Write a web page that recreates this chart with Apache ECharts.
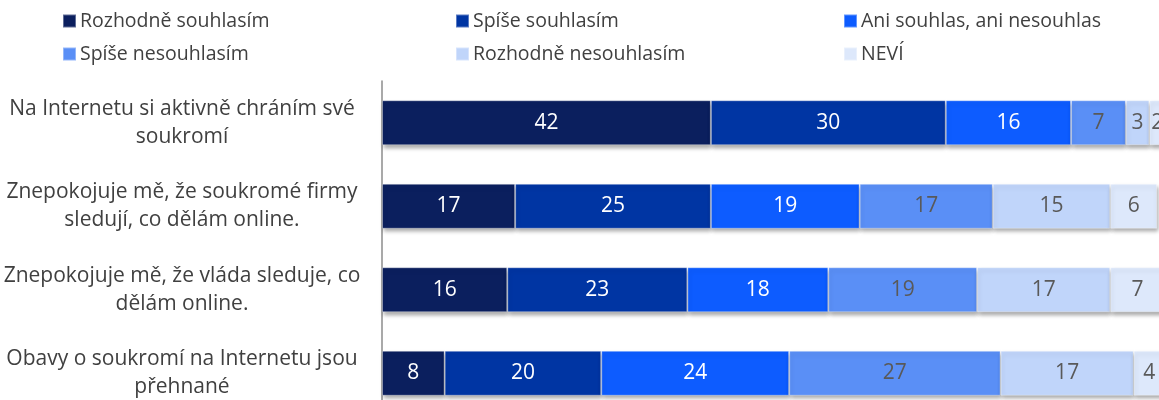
<!DOCTYPE html>
<html>
<head>
<meta charset="utf-8">
<script src="https://cdn.jsdelivr.net/npm/echarts@6/dist/echarts.min.js"></script>
<style>
  html, body { margin: 0; padding: 0; background: #fff; }
  #chart { width: 1159px; height: 400px; }
</style>
</head>
<body>
<div id="chart"></div>
<script>
// otázky (shora dolů)
var categories = [
  "Na Internetu si aktivně chráním své\nsoukromí",
  "Znepokojuje mě, že soukromé firmy\nsledují, co dělám online.",
  "Znepokojuje mě, že vláda sleduje, co\ndělám online.",
  "Obavy o soukromí na Internetu jsou\npřehnané"
];
var seriesNames = [
  "Rozhodně souhlasím",
  "Spíše souhlasím",
  "Ani souhlas, ani nesouhlas",
  "Spíše nesouhlasím",
  "Rozhodně nesouhlasím",
  "NEVÍ"
];
var rozhodneSouhlasim = [42, 17, 16, 8];
var spiseSouhlasim = [30, 25, 23, 20];
var aniAni = [16, 19, 18, 24];
var spiseNesouhlasim = [7, 17, 19, 27];
var rozhodneNesouhlasim = [3, 15, 17, 17];
var nevi = [2, 6, 7, 4];

var values = [rozhodneSouhlasim, spiseSouhlasim, aniAni, spiseNesouhlasim, rozhodneNesouhlasim, nevi];
var colors = ["#0b1f5e", "#0035a3", "#0d5cff", "#5a8ff6", "#c0d5fa", "#dde8fb"];
var labelColors = ["#fff", "#fff", "#fff", "#595959", "#595959", "#595959"];

var chart = echarts.init(document.getElementById("chart"));

var legendBase = {
  orient: "vertical",
  top: 11,
  icon: "rect",
  itemWidth: 13,
  itemHeight: 13,
  itemGap: 13,
  padding: 0,
  textStyle: { color: "#404040", fontSize: 19.5, fontFamily: "Open Sans", padding: [0, 0, 0, -1] }
};

chart.setOption({
  color: colors,
  animation: false,
  legend: [
    Object.assign({}, legendBase, { left: 62, data: [seriesNames[0], seriesNames[3]] }),
    Object.assign({}, legendBase, { left: 455, data: [seriesNames[1], seriesNames[4]] }),
    Object.assign({}, legendBase, { left: 843, data: [seriesNames[2], seriesNames[5]] })
  ],
  grid: {
    left: 382,
    top: 81,
    width: 783,
    height: 334,
    outerBoundsMode: "none"
  },
  xAxis: {
    type: "value",
    min: 0,
    max: 100,
    show: false
  },
  yAxis: {
    type: "category",
    inverse: true,
    data: categories,
    axisTick: { show: false },
    axisLine: { lineStyle: { color: "#8c8c8c", width: 1.5 } },
    axisLabel: {
      color: "#404040",
      fontSize: 21,
      fontFamily: "Open Sans",
      lineHeight: 28,
      align: "center",
      margin: 200
    }
  },
  series: values.map(function (data, i) {
    return {
      name: seriesNames[i],
      type: "bar",
      stack: "total",
      barWidth: 45,
      data: data,
      itemStyle: {
        color: colors[i],
        borderColor: "rgba(255,255,255,0.35)",
        borderWidth: 1,
        shadowColor: "rgba(0,0,0,0.35)",
        shadowBlur: 4,
        shadowOffsetY: 3,
        shadowOffsetX: 1
      },
      label: {
        show: true,
        position: "inside",
        color: labelColors[i],
        fontSize: 21,
        fontFamily: "Open Sans"
      }
    };
  })
});
</script>
</body>
</html>
